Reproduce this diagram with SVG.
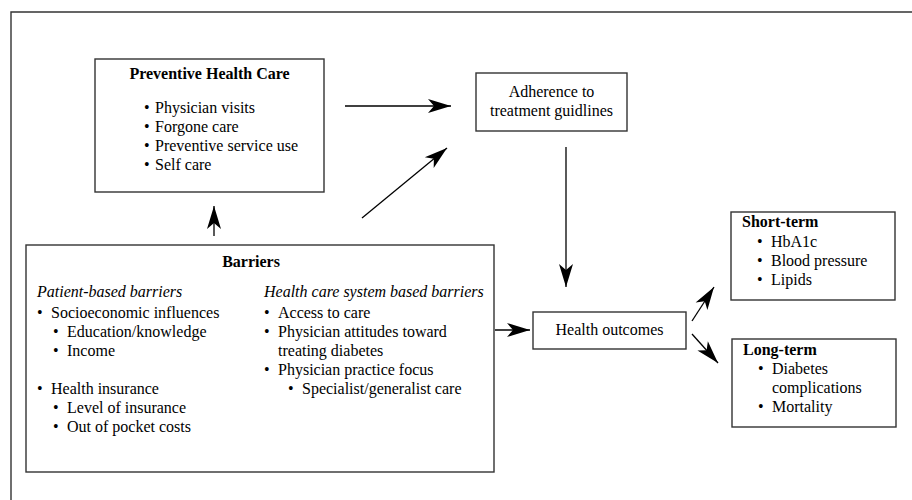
<svg xmlns="http://www.w3.org/2000/svg" width="912" height="500" viewBox="0 0 912 500">
<style>
  text { font-family: 'Liberation Serif', Tinos, 'Times New Roman', 'DejaVu Serif', serif; font-size: 16px; fill: #000; }
  .b { font-weight: bold; }
  .i { font-style: italic; }
  .c { text-anchor: middle; }
  .box { fill: #fff; stroke: #333; stroke-width: 1.4; }
  .frame { fill: none; stroke: #333; stroke-width: 1.4; }
  .conn { stroke: #000; stroke-width: 1.3; fill: none; marker-end: url(#ah); }
</style>
<defs>
  <marker id="ah" markerUnits="userSpaceOnUse" markerWidth="26" markerHeight="18" viewBox="-24 -9 26 18" refX="0" refY="0" orient="auto">
    <path d="M0,0 L-23,-7 L-17,0 L-23,7 Z" fill="#000"/>
  </marker>
</defs>
<rect width="912" height="500" fill="#fff"/>
<path class="frame" d="M11,500 L11,12 L912,12"/>

<g id="preventive">
  <rect class="box" x="95" y="59" width="229" height="133"/>
  <text class="b c" x="209.5" y="79">Preventive Health Care</text>
  <text x="144" y="113">•</text><text x="155" y="113">Physician visits</text>
  <text x="144" y="132">•</text><text x="155" y="132">Forgone care</text>
  <text x="144" y="151">•</text><text x="155" y="151">Preventive service use</text>
  <text x="144" y="170">•</text><text x="155" y="170">Self care</text>
</g>

<g id="adherence">
  <rect class="box" x="476" y="73" width="151" height="58"/>
  <text class="c" x="551.5" y="97">Adherence to</text>
  <text class="c" x="551.5" y="116">treatment guidlines</text>
</g>

<g id="barriers">
  <rect class="box" x="26" y="245" width="468" height="227"/>
  <text class="b c" x="251" y="267">Barriers</text>
  <text class="i" x="37" y="297">Patient-based barriers</text>
  <text x="37" y="318">•</text><text x="51" y="318">Socioeconomic influences</text>
  <text x="53" y="337">•</text><text x="67" y="337">Education/knowledge</text>
  <text x="53" y="356">•</text><text x="67" y="356">Income</text>
  <text x="37" y="394">•</text><text x="51" y="394">Health insurance</text>
  <text x="53" y="413">•</text><text x="67" y="413">Level of insurance</text>
  <text x="53" y="432">•</text><text x="67" y="432">Out of pocket costs</text>
  <text class="i" x="264" y="297">Health care system based barriers</text>
  <text x="264" y="318">•</text><text x="278" y="318">Access to care</text>
  <text x="264" y="337">•</text><text x="278" y="337">Physician attitudes toward</text>
  <text x="278" y="356">treating diabetes</text>
  <text x="264" y="375">•</text><text x="278" y="375">Physician practice focus</text>
  <text x="288" y="394">•</text><text x="302" y="394">Specialist/generalist care</text>
</g>

<g id="outcomes">
  <rect class="box" x="533" y="312" width="153" height="37"/>
  <text class="c" x="609.5" y="335">Health outcomes</text>
</g>

<g id="shortterm">
  <rect class="box" x="731" y="212" width="164" height="88"/>
  <text class="b" x="742" y="227">Short-term</text>
  <text x="757" y="247">•</text><text x="771" y="247">HbA1c</text>
  <text x="757" y="266">•</text><text x="771" y="266">Blood pressure</text>
  <text x="757" y="285">•</text><text x="771" y="285">Lipids</text>
</g>

<g id="longterm">
  <rect class="box" x="732" y="339" width="164" height="88"/>
  <text class="b" x="743" y="355">Long-term</text>
  <text x="758" y="374">•</text><text x="772" y="374">Diabetes</text>
  <text x="772" y="393">complications</text>
  <text x="758" y="412">•</text><text x="772" y="412">Mortality</text>
</g>

<g id="connectors">
  <line class="conn" x1="345" y1="106" x2="451" y2="106"/>
  <line class="conn" x1="362" y1="218" x2="447" y2="148"/>
  <line class="conn" x1="214" y1="236" x2="214" y2="206"/>
  <line class="conn" x1="566" y1="147" x2="566" y2="287"/>
  <line class="conn" x1="495" y1="330" x2="530" y2="330"/>
  <line class="conn" x1="692" y1="321" x2="714" y2="287"/>
  <line class="conn" x1="692" y1="334" x2="718" y2="363"/>
</g>
</svg>
